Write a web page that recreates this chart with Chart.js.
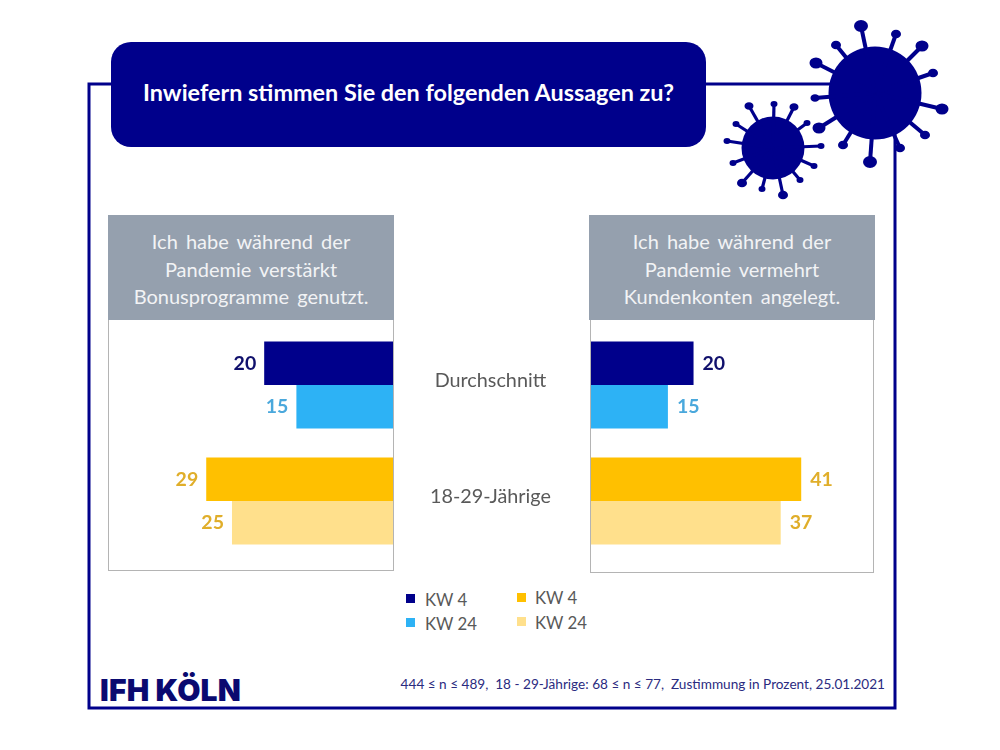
<!DOCTYPE html>
<html lang="de"><head><meta charset="utf-8">
<script src="https://cdn.jsdelivr.net/npm/chart.js@4/dist/chart.umd.min.js"></script>
<style>
html,body{margin:0;padding:0;background:#fff}
#stage{position:relative;width:1000px;height:750px;overflow:hidden;font-family:Lato,sans-serif}
#stage>*{position:absolute}
#deco{left:0;top:0;width:1000px;height:750px}
.title{left:111px;top:42px;width:595px;height:105px;border-radius:20px;background:#00008b;color:#fff;font-weight:700;font-size:23.4px;display:flex;align-items:center;justify-content:center;box-sizing:border-box;padding-bottom:6px}
.panel{box-sizing:border-box;border:1px solid #b4b4b4;border-top:none;background:#fff}
.head{background:#95a0ae;color:#f2f3f5;font-size:20px;line-height:27.5px;text-align:center;word-spacing:3px;box-sizing:border-box;padding-top:13px;height:105px;top:215px}
.sq{width:9px;height:9px}
.lg{font-size:16.8px;color:#595959;line-height:20px;white-space:nowrap}
#logo{left:100px;top:672px;font-family:Inter,Roboto,sans-serif;font-weight:900;font-size:30px;line-height:36px;color:#0a0a70;letter-spacing:.2px;white-space:nowrap}
#foot{right:115px;top:675px;font-size:13.6px;line-height:18px;color:#2b2b80;white-space:nowrap}
canvas{display:block}
.cv{top:326.5px;height:232px}
</style></head>
<body><div id="stage">
<svg id="deco" viewBox="0 0 1000 750"></svg>
<div class="title">Inwiefern stimmen Sie den folgenden Aussagen zu?</div>
<div class="panel" style="left:108px;top:320px;width:286px;height:251px"></div>
<div class="panel" style="left:590px;top:320px;width:284px;height:253px"></div>
<div class="head" style="left:108px;width:286px">Ich habe während der<br>Pandemie verstärkt<br>Bonusprogramme genutzt.</div>
<div class="head" style="left:589px;width:286px">Ich habe während der<br>Pandemie vermehrt<br>Kundenkonten angelegt.</div>
<div class="cv" style="left:108px;width:492px"><canvas id="left" width="492" height="232"></canvas></div>
<div class="cv" style="left:591px;width:282px"><canvas id="right" width="282" height="232"></canvas></div>
<div class="sq" style="left:406px;top:594px;background:#00008b"></div><div class="lg" style="left:425px;top:590px">KW 4</div>
<div class="sq" style="left:406px;top:618px;background:#2db2f5"></div><div class="lg" style="left:425px;top:614px">KW 24</div>
<div class="sq" style="left:517px;top:593px;background:#ffc000"></div><div class="lg" style="left:535px;top:588px">KW 4</div>
<div class="sq" style="left:517px;top:617px;background:#ffe08c"></div><div class="lg" style="left:535px;top:613px">KW 24</div>
<div id="logo">IFH KÖLN</div>
<div id="foot">444 ≤ n ≤ 489,&nbsp; 18 - 29-Jährige: 68 ≤ n ≤ 77,&nbsp; Zustimmung in Prozent, 25.01.2021</div>
</div>
<script>
const categories = ['Durchschnitt', '18-29-Jährige'];
const weekLabels = ['KW 4', 'KW 24'];
const bonusKw4 = [20, 29];
const bonusKw24 = [15, 25];
const kontenKw4 = [20, 41];
const kontenKw24 = [15, 37];
const fillKw4 = ['#00008b', '#ffc000'];
const fillKw24 = ['#2db2f5', '#ffe08c'];
const labelKw4 = ['#10106c', '#e0ae2a'];
const labelKw24 = ['#4aa8dc', '#e0ae2a'];

const valueLabels = {
  id: 'valueLabels',
  afterDatasetsDraw(chart, args, opts) {
    const ctx = chart.ctx;
    ctx.save();
    ctx.font = '700 19.5px Lato';
    ctx.textBaseline = 'middle';
    ctx.textAlign = opts.side === 'left' ? 'right' : 'left';
    chart.data.datasets.forEach((ds, d) => {
      chart.getDatasetMeta(d).data.forEach((bar, i) => {
        ctx.fillStyle = ds.labelColors[i];
        const dx = opts.side === 'left' ? -8 : 9;
        ctx.fillText(ds.data[i], bar.x + dx, bar.y);
      });
    });
    ctx.restore();
  }
};

function makeChart(id, a, b, max, side) {
  const isLeft = side === 'left';
  return new Chart(document.getElementById(id), {
    type: 'bar',
    data: {
      labels: categories,
      datasets: [
        {label: weekLabels[0], data: a, backgroundColor: fillKw4, labelColors: labelKw4},
        {label: weekLabels[1], data: b, backgroundColor: fillKw24, labelColors: labelKw24}
      ]
    },
    options: {
      indexAxis: 'y',
      responsive: false,
      animation: false,
      devicePixelRatio: 1,
      barPercentage: 1,
      categoryPercentage: 0.75,
      layout: {padding: 0},
      plugins: {legend: {display: false}, tooltip: {enabled: false}, valueLabels: {side}},
      scales: {
        x: {display: false, reverse: isLeft, min: 0, max},
        y: isLeft ? {
          position: 'right',
          afterFit(s) { s.width = 207; s.paddingTop = 0; s.paddingBottom = 0; },
          grid: {display: false, tickLength: 37},
          border: {display: false},
          ticks: {
            crossAlign: 'center',
            padding: 0,
            color: '#595959',
            font: {family: 'Lato', size: 19.8, lineHeight: '8px'},
            callback(v, i) { return [categories[i], '']; }
          }
        } : {display: false}
      }
    },
    plugins: [valueLabels]
  });
}
makeChart('left', bonusKw4, bonusKw24, 44.25, 'left');
makeChart('right', kontenKw4, kontenKw24, 55, 'right');

/* decoration: frame and the two virus icons */
const NAVY = '#00008b';
const svg = document.getElementById('deco');
let s = `<polyline points="835,84 89,84 89,708 895,708 895,130" fill="none" stroke="${NAVY}" stroke-width="3"/>`;
function virus(cx, cy, r, w, tips) {
  let o = `<circle cx="${cx}" cy="${cy}" r="${r}" fill="${NAVY}"/>`;
  tips.forEach(t => {
    o += `<line x1="${cx}" y1="${cy}" x2="${t[0]}" y2="${t[1]}" stroke="${NAVY}" stroke-width="${w}"/>`;
    o += `<ellipse cx="${t[0]}" cy="${t[1]}" rx="${t[2]}" ry="${t[2] * .85}" fill="${NAVY}"/>`;
  });
  return o;
}
s += virus(875, 93, 46.5, 4, [[861,26,7],[896,34,5],[922,46,6.5],[933,73,5],[942,109,6.5],[925,135,5],[900,148,5],[870,162,7],[843,145,5],[819,128,6.5],[815,98,4.5],[816,63,6.5],[836,45,5]]);
s += virus(773, 148, 31.5, 3.2, [[774,104,3.5],[794,107,4.5],[807,123,3.5],[821,146,3.5],[814,166,3.5],[800,180,3.5],[783,195,5],[762,189,3.5],[742,183,5],[733,163,3.5],[727,141,3.5],[736,124,3.5],[749,106,4.5]]);
svg.innerHTML = s;
</script>
</body></html>
